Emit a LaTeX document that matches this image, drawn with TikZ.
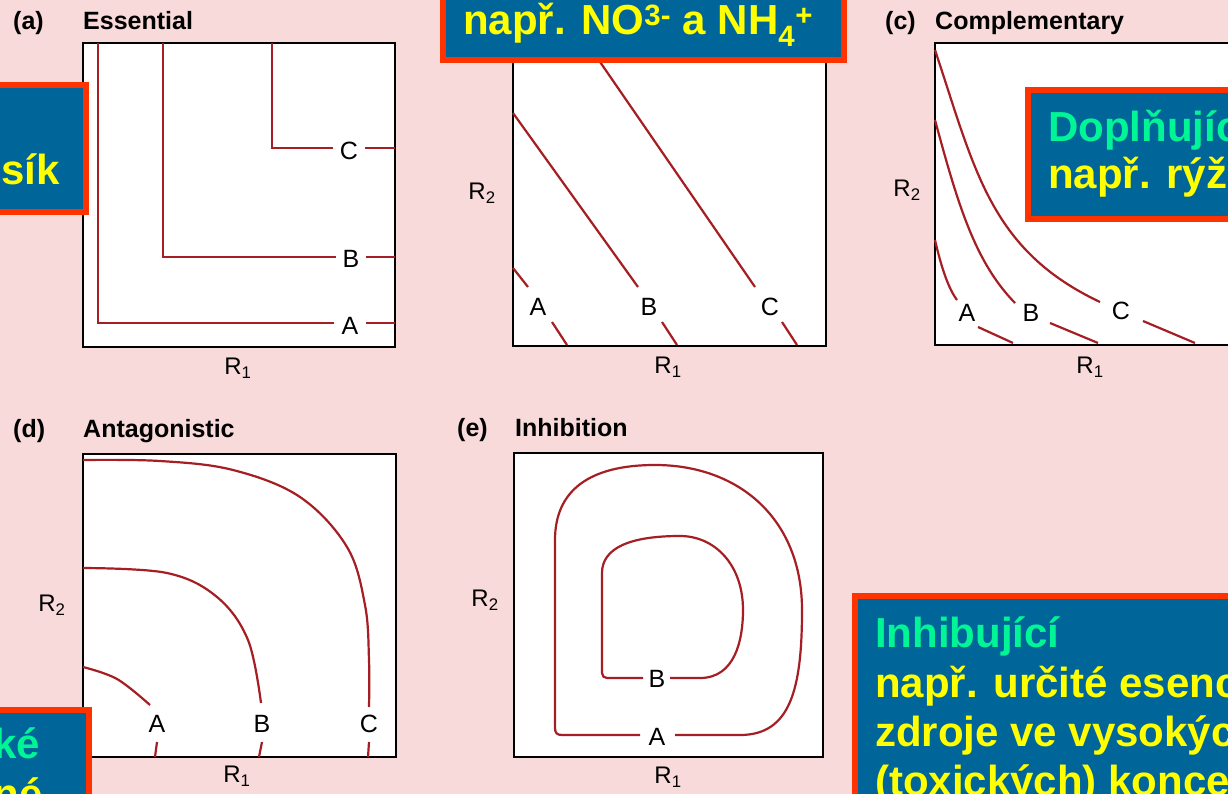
\documentclass[tikz,border=0pt]{standalone}
\usepackage{fontspec}
\setmainfont{Liberation Sans}
\definecolor{bgpink}{RGB}{248,218,218}
\definecolor{slideblue}{RGB}{0,102,153}
\definecolor{slidered}{RGB}{255,51,0}
\definecolor{slidegreen}{RGB}{0,245,150}
\definecolor{slideyellow}{RGB}{255,255,0}
\definecolor{curvered}{RGB}{165,30,35}
\begin{document}
\begin{tikzpicture}[x=1pt,y=-1pt,
  frame/.style={draw=black,line width=2.6pt,fill=white},
  curve/.style={draw=curvered,line width=2.2pt},
  ttl/.style={font=\fontsize{25}{28}\selectfont\bfseries,anchor=base west,inner sep=0pt},
  axl/.style={font=\fontsize{24}{26}\selectfont,inner sep=0pt},
  cl/.style={font=\fontsize{25}{28}\selectfont,inner sep=0pt},
  note/.style={draw=slidered,line width=6pt,fill=slideblue},
  ytxt/.style={font=\fontsize{42}{48}\selectfont\bfseries,text=slideyellow,inner sep=0pt},
  gtxt/.style={font=\fontsize{42}{48}\selectfont\bfseries,text=slidegreen,inner sep=0pt}]
\useasboundingbox (0,0) rectangle (1228,794);
\clip (0,0) rectangle (1228,794);
\fill[bgpink] (0,0) rectangle (1228,794);

% ---------- (a) Essential ----------
\node[ttl] (la) at (13,30) {(a)};
\node[ttl] (ta) at (83,30) {Essential};
\draw[frame] (83,43) rectangle (395,347);
\node[axl] (ar1) at (238,368) {R\textsubscript{1}};
\draw[curve] (98,43) -- (98,323) -- (334,323);
\draw[curve] (366,323) -- (395,323);
\draw[curve] (163,43) -- (163,257) -- (336,257);
\draw[curve] (366,257) -- (395,257);
\draw[curve] (272,43) -- (272,148) -- (333,148);
\draw[curve] (365,148) -- (395,148);
\node[cl] (aA) at (350,326) {A};
\node[cl] (aB) at (351,259) {B};
\node[cl] (aC) at (349,151) {C};

% ---------- (b) ----------
\draw[frame] (513,43) rectangle (826,346);
\node[axl] (br2) at (482,193) {R\textsubscript{2}};
\node[axl] (br1) at (668,367) {R\textsubscript{1}};
\draw[curve] (587,43) -- (755,287);
\draw[curve] (782,322) -- (797,345);
\draw[curve] (513,113) -- (638,287);
\draw[curve] (662,322) -- (677,345);
\draw[curve] (513,268) -- (528,287);
\draw[curve] (552,322) -- (567,345);
\node[cl] (bA) at (538,307) {A};
\node[cl] (bB) at (649,307) {B};
\node[cl] (bC) at (770,307) {C};

% ---------- (c) Complementary ----------
\node[ttl] (lc) at (885,30) {(c)};
\node[ttl] (tc) at (935,30) {Complementary};
\draw[frame] (935,43) rectangle (1245,345);
\node[axl] (cr2) at (907,190) {R\textsubscript{2}};
\node[axl] (cr1) at (1090,367) {R\textsubscript{1}};
\draw[curve] (935,50) .. controls (975,170) and (990,250) .. (1100,302);
\draw[curve] (1143,321) -- (1195,343);
\draw[curve] (935,120) .. controls (958,205) and (975,262) .. (1015,303);
\draw[curve] (1050,323) -- (1098,343);
\draw[curve] (935,240) .. controls (941,266) and (948,288) .. (957,300);
\draw[curve] (978,327) -- (1013,343);
\node[cl] (cA) at (967,313) {A};
\node[cl] (cB) at (1031,313) {B};
\node[cl] (cC) at (1121,311) {C};

% ---------- (d) Antagonistic ----------
\node[ttl] (ld) at (13,437) {(d)};
\node[ttl] (td) at (83,437) {Antagonistic};
\draw[frame] (83,454) rectangle (396,757);
\node[axl] (dr2) at (52,605) {R\textsubscript{2}};
\node[axl] (dr1) at (237,776) {R\textsubscript{1}};
\draw[curve] plot[smooth,tension=0.6] coordinates {(83,460) (160,461) (233,470) (300,497) (347,547) (365,605) (369,660) (369,707)};
\draw[curve] (369,742) -- (368,757);
\draw[curve] plot[smooth,tension=0.6] coordinates {(83,568) (167,573) (217,597) (248,640) (261,703)};
\draw[curve] (262,742) -- (259,757);
\draw[curve] plot[smooth,tension=0.6] coordinates {(83,667) (117,679) (150,705)};
\draw[curve] (157,742) -- (155,757);
\node[cl] (dA) at (157,724) {A};
\node[cl] (dB) at (262,724) {B};
\node[cl] (dC) at (369,724) {C};

% ---------- (e) Inhibition ----------
\node[ttl] (le) at (457,436) {(e)};
\node[ttl] (te) at (515,436) {Inhibition};
\draw[frame] (514,453) rectangle (823,757);
\node[axl] (er2) at (485,600) {R\textsubscript{2}};
\node[axl] (er1) at (668,777) {R\textsubscript{1}};
\draw[curve] (675,735) -- (740,735) .. controls (790,735) and (802,690) .. (802,610)
  .. controls (802,520) and (740,465) .. (655,465)
  .. controls (590,465) and (555,490) .. (555,540) -- (555,728)
  .. controls (555,733) and (557,735) .. (562,735) -- (640,735);
\draw[curve] (670,678) -- (700,678) .. controls (735,678) and (743,640) .. (743,610)
  .. controls (743,565) and (715,536) .. (680,536)
  .. controls (630,536) and (602,548) .. (602,573) -- (602,673)
  .. controls (602,676) and (604,678) .. (607,678) -- (643,678);
\node[cl] (eA) at (657,737) {A};
\node[cl] (eB) at (657,679) {B};

% ---------- overlay boxes ----------
\draw[note] (443,-20) rectangle (844,60);
\node[ytxt,anchor=base west] (ntop) at (463,35) {např. NO\textsuperscript{3-} a NH\textsubscript{4}\textsuperscript{+}};

\draw[note] (-20,85) rectangle (86,212);
\node[ytxt,anchor=base east] (nleft) at (60,185) {sík};

\draw[note] (1028,90) rectangle (1260,219);
\node[gtxt,anchor=base west] (nr1) at (1048,142) {Doplňující};
\node[ytxt,anchor=base west] (nr2) at (1048,189) {např. rýže};

\draw[note] (-20,710) rectangle (89,830);
\node[gtxt,anchor=base east] (nbl1) at (40,758) {ké};
\node[ytxt,anchor=base east] (nbl2) at (43,808) {né};

\draw[note] (855,596) rectangle (1260,830);
\node[gtxt,anchor=base west] (nbr1) at (875,647) {Inhibující};
\node[ytxt,anchor=base west] (nbr2) at (875,697) {např. určité esenciální};
\node[ytxt,anchor=base west] (nbr3) at (875,746) {zdroje ve vysokých};
\node[ytxt,anchor=base west] (nbr4) at (875,795) {(toxických) koncentracích};
\end{tikzpicture}
\end{document}
